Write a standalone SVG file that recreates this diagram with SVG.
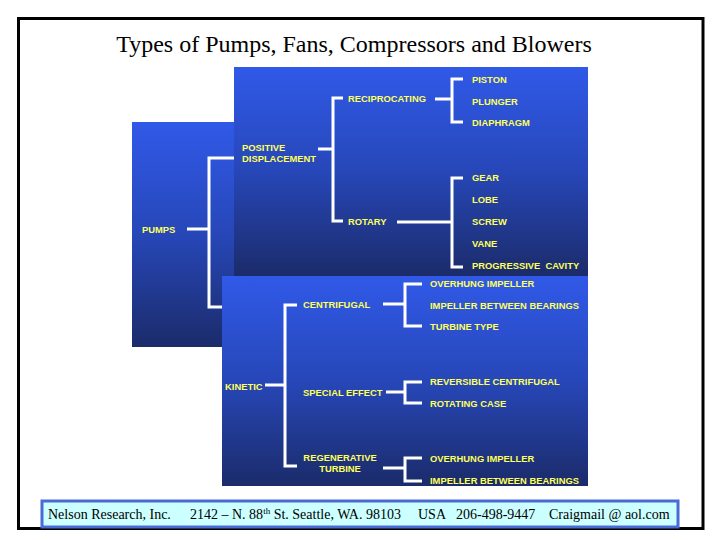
<svg xmlns="http://www.w3.org/2000/svg" width="720" height="540" viewBox="0 0 720 540">
<defs>
<linearGradient id="panel" x1="0" y1="0" x2="0" y2="1">
<stop offset="0" stop-color="#3059e8"/>
<stop offset="0.5" stop-color="#2747b8"/>
<stop offset="1" stop-color="#1b2b6a"/>
</linearGradient>
<style>
.lbl{font-family:"Liberation Sans",Arial,sans-serif;font-weight:bold;font-size:9.4px;fill:#ffff5a}
.con{fill:none;stroke:#ffffff;stroke-width:3}
.panel{fill:url(#panel)}
.serif{font-family:"Liberation Serif","Times New Roman",serif;fill:#000}
</style>
</defs>
<rect width="720" height="540" fill="#ffffff"/>
<rect x="18.5" y="18.5" width="684.5" height="510" fill="none" stroke="#000" stroke-width="3"/>
<text class="serif" x="354" y="52" font-size="24" text-anchor="middle">Types of Pumps, Fans, Compressors and Blowers</text>

<g id="panels">
<rect class="panel" x="132" y="122" width="108" height="225"/>
<rect class="panel" x="234" y="67" width="354" height="209"/>
<rect class="panel" x="222" y="276" width="366" height="210"/>
</g>

<g id="connectors">
<path class="con" d="M234,158 H209 V307 H222 M187,229 H209"/>
<path class="con" d="M318,149 H333 M343,98 H333 V221 H343"/>
<path class="con" d="M435,99 H452 M463,79 H452 V122 H463"/>
<path class="con" d="M397,222 H452 M463,178 H452 V267 H463"/>
<path class="con" d="M265,385 H285 M297,305 H285 V466 H297"/>
<path class="con" d="M383,304 H405 M422,284 H405 V326 H422"/>
<path class="con" d="M386,392 H405 M422,382 H405 V403 H422"/>
<path class="con" d="M383,468 H405 M422,458 H405 V481 H422"/>
</g>

<g id="pumps"><text class="lbl" x="142" y="233">PUMPS</text></g>
<g id="positive-displacement"><text class="lbl" x="242" y="150.5">POSITIVE</text><text class="lbl" x="242" y="162">DISPLACEMENT</text></g>
<g id="reciprocating"><text class="lbl" x="348" y="102">RECIPROCATING</text></g>
<g id="rotary"><text class="lbl" x="348" y="225">ROTARY</text></g>
<g id="piston"><text class="lbl" x="472" y="83">PISTON</text></g>
<g id="plunger"><text class="lbl" x="472" y="105">PLUNGER</text></g>
<g id="diaphragm"><text class="lbl" x="472" y="126">DIAPHRAGM</text></g>
<g id="gear"><text class="lbl" x="472" y="181">GEAR</text></g>
<g id="lobe"><text class="lbl" x="472" y="203">LOBE</text></g>
<g id="screw"><text class="lbl" x="472" y="225">SCREW</text></g>
<g id="vane"><text class="lbl" x="472" y="247">VANE</text></g>
<g id="progressive-cavity"><text class="lbl" x="472" y="269" xml:space="preserve">PROGRESSIVE  CAVITY</text></g>
<g id="kinetic"><text class="lbl" x="225" y="390">KINETIC</text></g>
<g id="centrifugal"><text class="lbl" x="303" y="308">CENTRIFUGAL</text></g>
<g id="special-effect"><text class="lbl" x="303" y="396">SPECIAL EFFECT</text></g>
<g id="regenerative-turbine"><text class="lbl" x="340" y="461" text-anchor="middle">REGENERATIVE</text><text class="lbl" x="340" y="472" text-anchor="middle">TURBINE</text></g>
<g id="c-overhung"><text class="lbl" x="430" y="287">OVERHUNG IMPELLER</text></g>
<g id="c-between"><text class="lbl" x="430" y="309">IMPELLER BETWEEN BEARINGS</text></g>
<g id="c-turbine-type"><text class="lbl" x="430" y="330">TURBINE TYPE</text></g>
<g id="reversible"><text class="lbl" x="430" y="385">REVERSIBLE CENTRIFUGAL</text></g>
<g id="rotating-case"><text class="lbl" x="430" y="407">ROTATING CASE</text></g>
<g id="r-overhung"><text class="lbl" x="430" y="462">OVERHUNG IMPELLER</text></g>
<g id="r-between"><text class="lbl" x="430" y="484">IMPELLER BETWEEN BEARINGS</text></g>

<g id="footer">
<rect x="42" y="501" width="636" height="26" fill="#ccffff" stroke="#4a6ad6" stroke-width="3"/>
<text class="serif" font-size="14" y="519"><tspan x="48">Nelson Research, Inc.</tspan><tspan x="190">2142 – N. 88</tspan><tspan font-size="9" dy="-5">th</tspan><tspan dy="5"> St. Seattle, WA. 98103</tspan><tspan x="418">USA</tspan><tspan x="456">206-498-9447</tspan><tspan x="549">Craigmail @ aol.com</tspan></text>
</g>
</svg>
